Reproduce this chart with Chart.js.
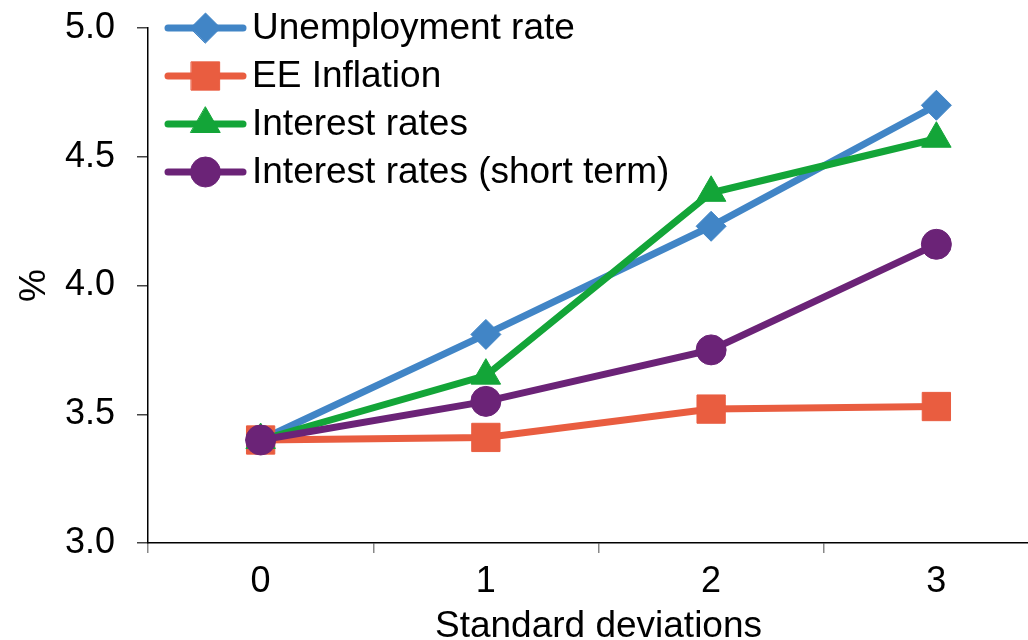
<!DOCTYPE html>
<html>
<head>
<meta charset="utf-8">
<script src="https://cdn.jsdelivr.net/npm/chart.js@4/dist/chart.umd.min.js"></script>
<style>
  html, body { margin: 0; padding: 0; background: #fff; overflow: hidden; }
  #wrap { width: 1100px; height: 640px; }
</style>
</head>
<body>
<div id="wrap"><canvas id="myChart" width="1100" height="640"></canvas></div>
<script>
// data ....................................
var xValues = ["0", "1", "2", "3"];
var unemployment = [3.40, 3.81, 4.23, 4.70];
var eeInflation = [3.40, 3.41, 3.52, 3.53];
var interestRates = [3.40, 3.65, 4.36, 4.57];
var shortTerm = [3.40, 3.55, 3.75, 4.16];
var yTicks = [3.0, 3.5, 4.0, 4.5, 5.0];

var FONT = "'Liberation Sans', Arial, sans-serif";

// legend drawn by hand, top left inside the plot
var legendPlugin = {
  id: "handLegend",
  afterDraw: function (chart) {
    var ctx = chart.ctx;
    var x0 = 168, x1 = 243, tx = 252;
    var y = 28, step = 48;
    chart.data.datasets.forEach(function (ds, i) {
      var cy = y + i * step;
      ctx.save();
      ctx.strokeStyle = ds.borderColor;
      ctx.lineWidth = ds.borderWidth;
      ctx.lineCap = "round";
      ctx.beginPath();
      ctx.moveTo(x0, cy);
      ctx.lineTo(x1, cy);
      ctx.stroke();
      ctx.fillStyle = ds.pointBackgroundColor;
      ctx.strokeStyle = ds.pointBackgroundColor;
      ctx.lineWidth = 1;
      Chart.helpers.drawPoint(ctx, { pointStyle: ds.pointStyle, radius: ds.pointRadius, rotation: 0, borderWidth: 1 }, (x0 + x1) / 2, cy);
      ctx.fillStyle = "#000";
      ctx.font = "37px " + FONT;
      ctx.textBaseline = "middle";
      ctx.textAlign = "left";
      ctx.fillText(ds.label, tx, cy + 1);
      ctx.restore();
    });
  }
};

function series(label, data, color, style, radius, order) {
  return {
    label: label,
    data: data,
    borderColor: color,
    backgroundColor: color,
    pointBackgroundColor: color,
    pointBorderColor: color,
    borderWidth: 7,
    pointStyle: style,
    pointRadius: radius,
    pointHoverRadius: radius,
    pointBorderWidth: 1,
    tension: 0,
    order: order
  };
}

new Chart("myChart", {
  type: "line",
  data: {
    labels: xValues,
    datasets: [
      series("Unemployment rate", unemployment, "#4185c6", "rectRot", 15, 4),
      series("EE Inflation", eeInflation, "#e95d40", "rect", 20, 3),
      series("Interest rates", interestRates, "#13a538", "triangle", 17, 2),
      series("Interest rates (short term)", shortTerm, "#6b2377", "circle", 15, 1)
    ]
  },
  plugins: [legendPlugin],
  options: {
    responsive: false,
    animation: false,
    layout: { padding: { left: 13, right: 51, top: 28, bottom: 0 } },
    plugins: {
      legend: { display: false },
      tooltip: { enabled: false },
      title: { display: false }
    },
    scales: {
      x: {
        type: "category",
        offset: true,
        grid: { offset: true, drawOnChartArea: false, drawTicks: true, tickLength: 10, color: "#888", lineWidth: 1.5 },
        border: { color: "#000", width: 1.5 },
        ticks: { color: "#000", font: { family: FONT, size: 36 }, padding: 7, maxRotation: 0 },
        title: { display: true, text: "Standard deviations", color: "#000", font: { family: FONT, size: 37 }, padding: { top: 0, bottom: -9 } },
        afterFit: function (s) { s.height = 97; s.paddingLeft = 0; s.paddingRight = 0; }
      },
      y: {
        min: 3.0,
        max: 5.0,
        afterBuildTicks: function (s) { s.ticks = yTicks.map(function (v) { return { value: v }; }); },
        grid: { drawOnChartArea: false, drawTicks: true, tickLength: 11, color: "#444", lineWidth: 1.5 },
        border: { color: "#000", width: 1.5 },
        ticks: { color: "#000", font: { family: FONT, size: 36 }, padding: 22, callback: function (v) { return Number(v).toFixed(1); } },
        title: { display: true, text: "%", color: "#000", font: { family: FONT, size: 37 }, padding: 0 },
        afterFit: function (s) { s.width = 135; s.paddingTop = 0; s.paddingBottom = 0; }
      }
    }
  }
});
</script>
</body>
</html>
